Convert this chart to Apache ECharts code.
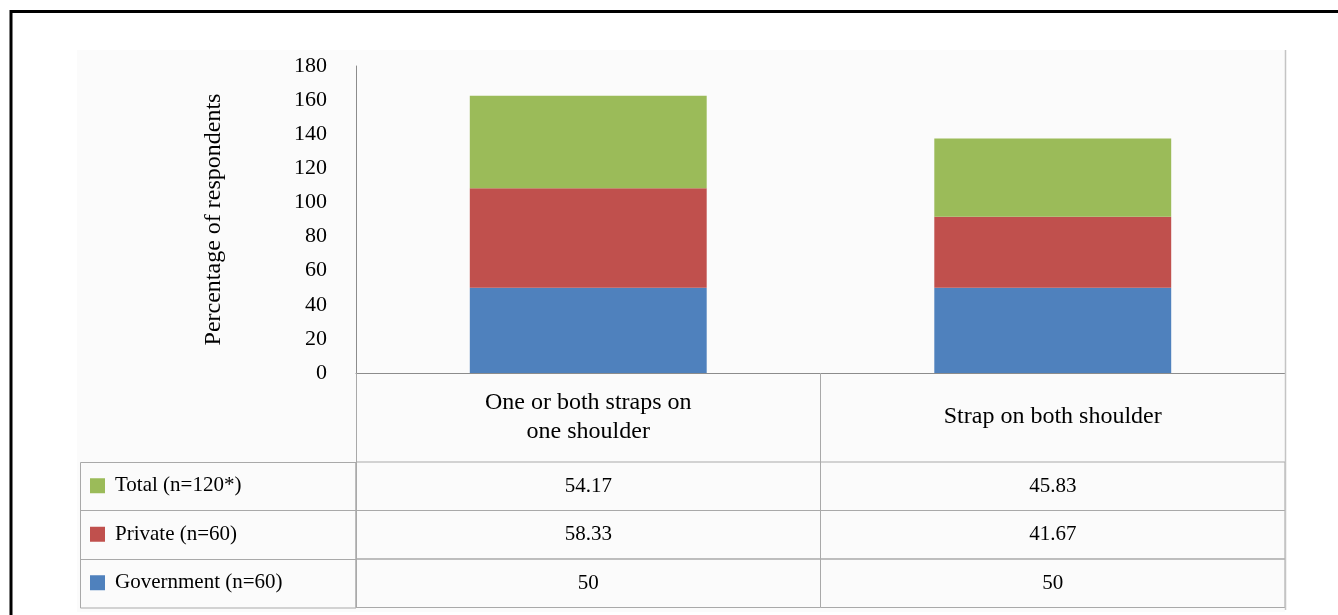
<!DOCTYPE html>
<html>
<head>
<meta charset="utf-8">
<script src="https://cdn.jsdelivr.net/npm/echarts@6/dist/echarts.min.js"></script>
<style>
html,body{margin:0;padding:0;background:#fff;}
#c{width:1338px;height:615px;}
</style>
</head>
<body>
<div id="c"></div>
<script>
// ---- data ----
const categories = ['One or both straps on\none shoulder', 'Strap on both shoulder'];
const government = [50, 50];
const privateVals = [58.33, 41.67];
const total = [54.17, 45.83];
const seriesNames = ['Government (n=60)', 'Private (n=60)', 'Total (n=120*)'];
const yAxisName = 'Percentage of respondents';
const yMin = 0, yMax = 180, yStep = 20;

// ---- styles ----
const FONT = '"Liberation Serif", "Times New Roman", serif';
const colors = ['#4F81BD', '#C0504D', '#9BBB59'];
const tableLine = '#a9a9a9';
const axisLine = '#8c8c8c';

const chart = echarts.init(document.getElementById('c'));

// table rows top-to-bottom: Total, Private, Government
const tableRows = [total, privateVals, government];
const tableNames = [seriesNames[2], seriesNames[1], seriesNames[0]];
const rowTop0 = 462, rowH = 48.5;

const grids = [{ left: 356, right: 53, top: 66, bottom: 242 }];
const xAxes = [{
  type: 'category', gridIndex: 0, data: categories,
  axisLine: { show: true, lineStyle: { color: axisLine, width: 1 } },
  axisTick: { show: true, length: 89, lineStyle: { color: tableLine } },
  axisLabel: {
    interval: 0, margin: 44, verticalAlign: 'middle',
    color: '#000', fontFamily: FONT, fontSize: 24, lineHeight: 29
  }
}];
const yAxes = [{
  type: 'value', gridIndex: 0, min: yMin, max: yMax, interval: yStep,
  name: yAxisName, nameLocation: 'middle', nameGap: 130, nameRotate: 90,
  nameTextStyle: { color: '#000', fontFamily: FONT, fontSize: 24 },
  axisLine: { show: true, lineStyle: { color: axisLine, width: 1 } },
  axisTick: { show: false },
  splitLine: { show: false },
  axisLabel: { color: '#000', fontFamily: FONT, fontSize: 22, margin: 29 }
}];
const legends = [];

tableRows.forEach((vals, i) => {
  grids.push({
    left: 356, right: 53, top: rowTop0 + rowH * i, height: rowH,
    show: true, borderColor: tableLine, borderWidth: 1, backgroundColor: 'transparent'
  });
  xAxes.push({
    type: 'category', gridIndex: i + 1, data: categories,
    axisLine: { show: false }, axisTick: { show: false },
    splitLine: { show: true, interval: 0, lineStyle: { color: tableLine } },
    axisLabel: {
      interval: 0, margin: -rowH / 2, verticalAlign: 'middle',
      color: '#000', fontFamily: FONT, fontSize: 21,
      formatter: (v, idx) => String(vals[idx])
    }
  });
  yAxes.push({ type: 'value', gridIndex: i + 1, show: false });
  legends.push({
    left: 90, top: rowTop0 + rowH * i + rowH / 2 - 11, padding: 0,
    data: [tableNames[i]],
    icon: 'rect', itemWidth: 15, itemHeight: 15, itemGap: 0,
    selectedMode: false,
    textStyle: { color: '#000', fontFamily: FONT, fontSize: 21, padding: [2, 0, 0, 5] }
  });
});

const option = {
  backgroundColor: '#fff',
  animation: false,
  graphic: [
    { type: 'rect', z: -10, shape: { x: 77, y: 50, width: 1208, height: 562 }, style: { fill: '#fbfbfb' } },
    { type: 'line', z: 5, shape: { x1: 1285.5, y1: 50, x2: 1285.5, y2: 610 }, style: { stroke: '#c4c4c4', lineWidth: 1.5 } },
    { type: 'rect', z: 5, shape: { x: 80.5, y: 462.5, width: 275.5, height: 145.5 }, style: { fill: 'transparent', stroke: tableLine, lineWidth: 1 } },
    { type: 'line', z: 5, shape: { x1: 80, y1: 510.5, x2: 356, y2: 510.5 }, style: { stroke: tableLine, lineWidth: 1 } },
    { type: 'line', z: 5, shape: { x1: 80, y1: 559.5, x2: 356, y2: 559.5 }, style: { stroke: tableLine, lineWidth: 1 } },
    { type: 'line', z: 10, shape: { x1: 11, y1: 11.5, x2: 1338, y2: 11.5 }, style: { stroke: '#000', lineWidth: 3 } },
    { type: 'line', z: 10, shape: { x1: 11, y1: 10, x2: 11, y2: 615 }, style: { stroke: '#000', lineWidth: 3 } }
  ],
  legend: legends,
  grid: grids,
  xAxis: xAxes,
  yAxis: yAxes,
  series: [
    { name: seriesNames[0], type: 'bar', stack: 's', barWidth: '51%', data: government, itemStyle: { color: colors[0] }, xAxisIndex: 0, yAxisIndex: 0 },
    { name: seriesNames[1], type: 'bar', stack: 's', barWidth: '51%', data: privateVals, itemStyle: { color: colors[1] }, xAxisIndex: 0, yAxisIndex: 0 },
    { name: seriesNames[2], type: 'bar', stack: 's', barWidth: '51%', data: total, itemStyle: { color: colors[2] }, xAxisIndex: 0, yAxisIndex: 0 }
  ]
};
chart.setOption(option);
</script>
</body>
</html>
